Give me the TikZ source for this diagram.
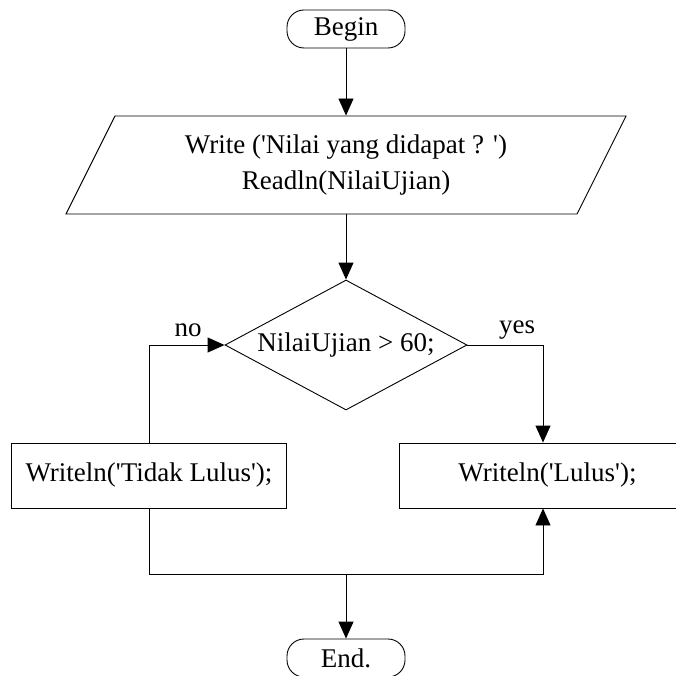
\documentclass[tikz,border=0pt]{standalone}
\usepackage{fontspec}
\setmainfont{Liberation Serif}
\usetikzlibrary{shapes.geometric,arrows.meta}
\newcommand{\sq}{\textquotesingle}
\begin{document}
\begin{tikzpicture}[x=1pt,y=-1pt,
  font=\fontsize{27}{36}\selectfont,
  line width=0.9pt,
  arr/.style={-{Triangle[length=17pt,width=15pt]}},
  term/.style={draw, rounded corners=17pt, minimum width=118pt, minimum height=38pt, inner sep=0pt},
  proc/.style={draw, minimum height=65pt, inner sep=0pt},
  dec/.style={draw, diamond, aspect=2, minimum width=242pt, minimum height=130pt, inner sep=0pt},
  iobox/.style={minimum height=98pt, inner sep=0pt, align=center},
  lbl/.style={inner sep=0pt}]
\useasboundingbox (0,0) rectangle (676,676);
\clip (0,0) rectangle (676,676);

\node[term] (begin) at (346,29) {Begin};
\node[iobox] (io) at (346,165) {Write (\sq Nilai yang didapat ? \sq)\\Readln(NilaiUjian)};
\draw (115,116) -- (626,116) -- (577,214) -- (66,214) -- cycle;
\node[dec] (d) at (346,345) {NilaiUjian > 60;};
\node[proc, minimum width=275pt] (lt) at (149,475.5) {Writeln(\sq Tidak Lulus\sq);};
\node[proc, minimum width=288pt] (rt) at (543,475.5) {\hspace*{9pt}Writeln(\sq Lulus\sq);};
\node[term] (end) at (346,658) {End.};
\coordinate (j) at (346,574);

\draw[arr] (begin.south) -- (io.north);
\draw[arr] (io.south) -- (d.north);
\draw[arr] (lt.north) |- (d.west);
\draw[arr] (d.east) -| (rt.north);
\draw (lt.south) |- (j);
\draw[arr] (j) -| (rt.south);
\draw[arr] (j) -- (end.north);

\node[lbl] at (188,330) {no};
\node[lbl] at (517,330) {yes};
\end{tikzpicture}
\end{document}
